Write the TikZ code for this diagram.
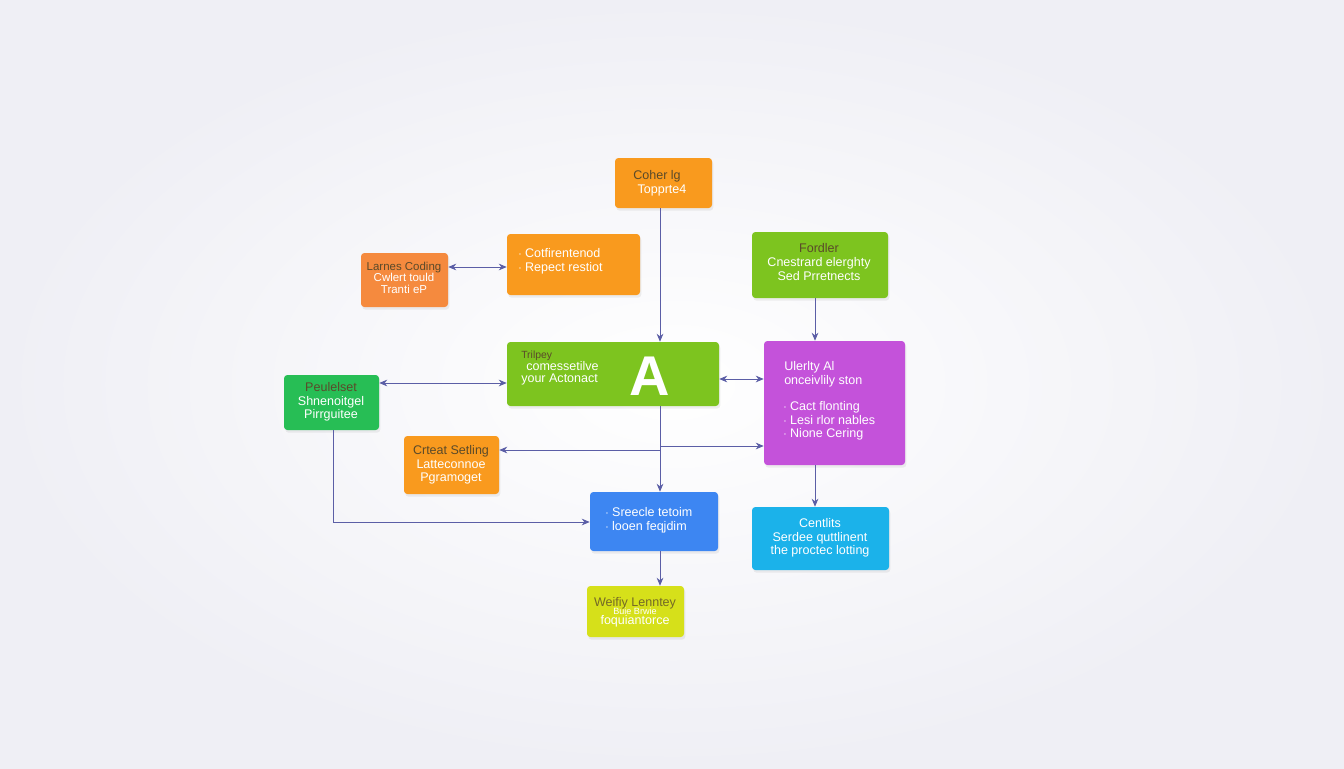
\documentclass[tikz,border=0pt]{standalone}
\usepackage{fontspec}
\setmainfont{Liberation Sans}
\usetikzlibrary{arrows.meta,fit,shadows}
\definecolor{bgc}{HTML}{EFEFF5}
\definecolor{lnc}{HTML}{5B5EA6}
\definecolor{orA}{HTML}{F99A1E}
\definecolor{orB}{HTML}{F58A3E}
\definecolor{grA}{HTML}{7DC41F}
\definecolor{grB}{HTML}{27BE55}
\definecolor{puA}{HTML}{C452DA}
\definecolor{blA}{HTML}{3D86F2}
\definecolor{cyA}{HTML}{1BB2EA}
\definecolor{yeA}{HTML}{D6E01A}
\definecolor{dk}{HTML}{5A4A2A}
\tikzset{
  box/.style={rectangle, rounded corners=2.5pt, inner sep=0pt, draw=none,
    drop shadow={opacity=0.12, shadow xshift=1pt, shadow yshift=-2pt}},
  txt/.style={font=\fontsize{9.4}{10.2}\selectfont, text=white, inner sep=0pt, align=center},
  txl/.style={txt, align=left, anchor=west},
  conn/.style={draw=lnc, line width=0.6pt},
  arr/.style={conn, -{Stealth[length=6pt,width=5pt]}},
  darr/.style={conn, {Stealth[length=6pt,width=5pt]}-{Stealth[length=6pt,width=5pt]}},
}
\begin{document}
\begin{tikzpicture}[x=0.75pt,y=-0.75pt]
\useasboundingbox (0,0) rectangle (1344,768);
\shade[inner color=white, outer color=bgc] (0,0) rectangle (1344,768);

% boxes
\node[box, fill=orA, fit={(615,158) (712,208)}] (top) {};
\node[box, fill=orA, fit={(507,234) (640,295)}] (cot) {};
\node[box, fill=orB, fit={(361,253) (448,307)}] (lar) {};
\node[box, fill=grA, fit={(507,342) (719,406)}] (amain) {};
\node[box, fill=grA, fit={(752,232) (888,298)}] (ford) {};
\node[box, fill=puA, fit={(764,341) (905,465)}] (pur) {};
\node[box, fill=grB, fit={(284,375) (379,430)}] (peu) {};
\node[box, fill=orA, fit={(404,436) (499,494)}] (crt) {};
\node[box, fill=blA, fit={(590,492) (718,551)}] (blu) {};
\node[box, fill=cyA, fit={(752,507) (889,570)}] (cen) {};
\node[box, fill=yeA, fit={(587,586) (684,637)}] (yel) {};

% texts
\node[txt, text=dk] (t1a) at (657,176) {Coher lg};
\node[txt] (t1b) at (662,190) {Topprte4};
\node[txl] (t2) at (518,261) {$\cdot$ Cotfirentenod\\$\cdot$ Repect restiot};
\node[txt, text=dk, font=\fontsize{8.6}{9}\selectfont] (t3a) at (404,268) {Larnes Coding};
\node[txt, font=\fontsize{8.6}{9}\selectfont] (t3b) at (404,277) {Cwlert tould};
\node[txt, font=\fontsize{8.6}{9}\selectfont] (t3c) at (404,289) {Tranti eP};
\node[txl, text=dk, font=\fontsize{7.8}{9}\selectfont] (t4a) at (521,356) {Trilpey};
\node[txl] (t4b) at (526,366) {comessetilve};
\node[txl] (t4c) at (521,379) {your Actonact};
\node[txt, font=\bfseries\fontsize{42}{42}\selectfont] (t4d) at (650,376) {A};
\node[txt] (t5) at (819,262) {\textcolor{dk}{Fordler}\\Cnestrard elerghty\\Sed Prretnects};
\node[txl] (t6a) at (784,374) {Ulerlty Al\\onceivlily ston};
\node[txl] (t6b) at (783,421) {$\cdot$ Cact flonting\\$\cdot$ Lesi rlor nables\\$\cdot$ Nione Cering};
\node[txt] (t7) at (331,402) {\textcolor{dk}{Peulelset}\\Shnenoitgel\\Pirrguitee};
\node[txt] (t8) at (451,465) {\textcolor{dk}{Crteat Setling}\\Latteconnoe\\Pgramoget};
\node[txl] (t9) at (605,520) {$\cdot$ Sreecle tetoim\\$\cdot$ looen feqjdim};
\node[txt] (t10) at (820,538) {Centlits\\Serdee quttlinent\\the proctec lotting};
\node[txt, text=dk!80!yeA] (t11a) at (635,603) {Weifiy Lenntey};
\node[txt, font=\fontsize{6.8}{8}\selectfont] (t11b) at (635,611) {Buie Brwie};
\node[txt] (t11c) at (635,621) {foquiantorce};

% connectors
\coordinate (jl) at (660,450);
\coordinate (jr) at (660,446);
\coordinate (gc) at (333,522);
\draw[arr] (top.south -| 660,0) -- (amain.north -| 660,0);
\draw[darr] (lar.east |- 0,267) -- (cot.west |- 0,267);
\draw[darr] (peu.east |- 0,383) -- (amain.west |- 0,383);
\draw[darr] (amain.east |- 0,379) -- (pur.west |- 0,379);
\draw[arr] (ford.south -| 815,0) -- (pur.north -| 815,0);
\draw[arr] (amain.south -| 660,0) -- (blu.north -| 660,0);
\draw[arr] (jl) -- (crt.east |- jl);
\draw[arr] (jr) -- (pur.west |- jr);
\draw[arr] (peu.south -| gc) -- (gc) -- (blu.west |- gc);
\draw[arr] (pur.south -| 815,0) -- (cen.north -| 815,0);
\draw[arr] (blu.south -| 660,0) -- (yel.north -| 660,0);
\end{tikzpicture}
\end{document}
